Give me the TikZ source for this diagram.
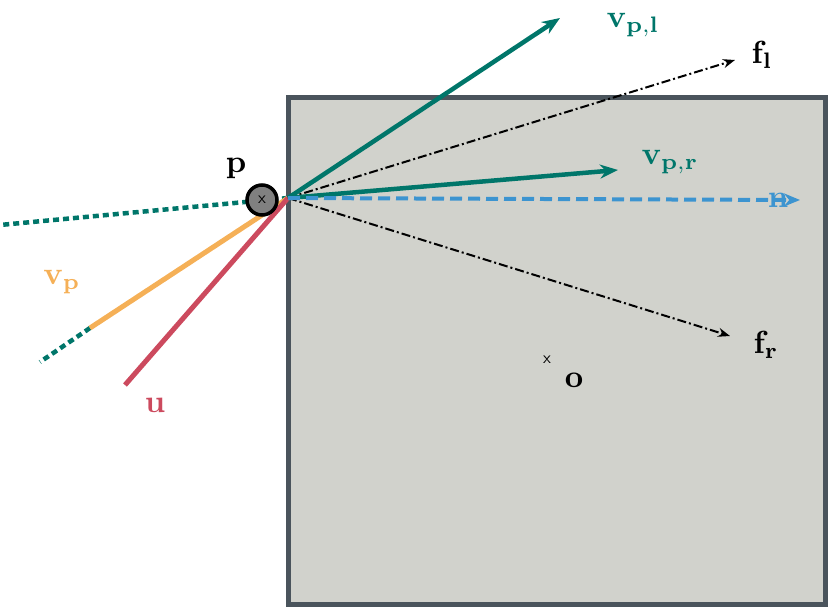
\documentclass[tikz,border=0pt]{standalone}
\usepackage{amsmath}
\usetikzlibrary{arrows.meta}
\definecolor{gr}{HTML}{00766A}
\definecolor{orr}{HTML}{F5B057}
\definecolor{rd}{HTML}{CC4A5E}
\definecolor{bl}{HTML}{3C94D0}
\definecolor{bx}{HTML}{D1D2CC}
\definecolor{bd}{HTML}{4A545C}
\begin{document}
\begin{tikzpicture}[x=1pt,y=-1pt,
  lab/.style={scale=3.2, inner sep=0pt},
  vec/.style={line width=4.5pt,-{Stealth[length=18pt,width=14pt]}},
  fv/.style={line width=2pt,dash pattern=on 9pt off 3pt on 2pt off 3pt,-{Stealth[length=12pt,width=9pt]}},
  gdot/.style={gr,line width=4.5pt,dash pattern=on 6pt off 4pt}]
\useasboundingbox (0,0) rectangle (830,610);
\draw[bd,fill=bx,line width=5pt] (288,97) rectangle (825,604);
\coordinate (p) at (288,198);
\draw[gdot] (p) -- (0,225);
\draw[gdot] (90,328) -- (40,362);
\draw[orr,line width=5pt] (p) -- (90,328);
\draw[rd,line width=5pt] (p) -- (125,385);
\node[circle,draw=black,fill=gray,line width=3.5pt,minimum size=30pt,inner sep=0pt] (pc) at (262,200) {};
\node[scale=1.7,inner sep=0pt,font=\sffamily] (pcx) at (262,200) {x};
\coordinate (vl) at (560,18);
\coordinate (fl) at (735,60);
\coordinate (vr) at (618,170);
\coordinate (n) at (800,200);
\coordinate (fr) at (730,336);
\draw[fv] (p) -- (fl);
\draw[fv] (p) -- (fr);
\draw[vec,gr] (p) -- (vl);
\draw[vec,gr] (p) -- (vr);
\draw[bl,line width=4pt,dash pattern=on 12pt off 6pt,-{Stealth[length=16pt,width=13pt]}] (p) -- (n);
\node[lab] (lp) at (236,168) {$\mathbf{p}$};
\node[lab,gr] (lvl) at (633,25) {$\mathbf{v_{p,l}}$};
\node[lab] (lfl) at (762,55) {$\mathbf{f_l}$};
\node[lab,gr] (lvr) at (670,162) {$\mathbf{v_{p,r}}$};
\node[lab,bl] (ln) at (778,200) {$\mathbf{n}$};
\node[lab] (lfr) at (766,345) {$\mathbf{f_r}$};
\node[lab,orr] (lvp) at (62,282) {$\mathbf{v_p}$};
\node[lab,rd] (lu) at (155,405) {$\mathbf{u}$};
\node[lab] (lo) at (574,380) {$\mathbf{o}$};
\node[scale=1.7,inner sep=0pt,font=\sffamily] (ox) at (547,360) {x};
\end{tikzpicture}
\end{document}
